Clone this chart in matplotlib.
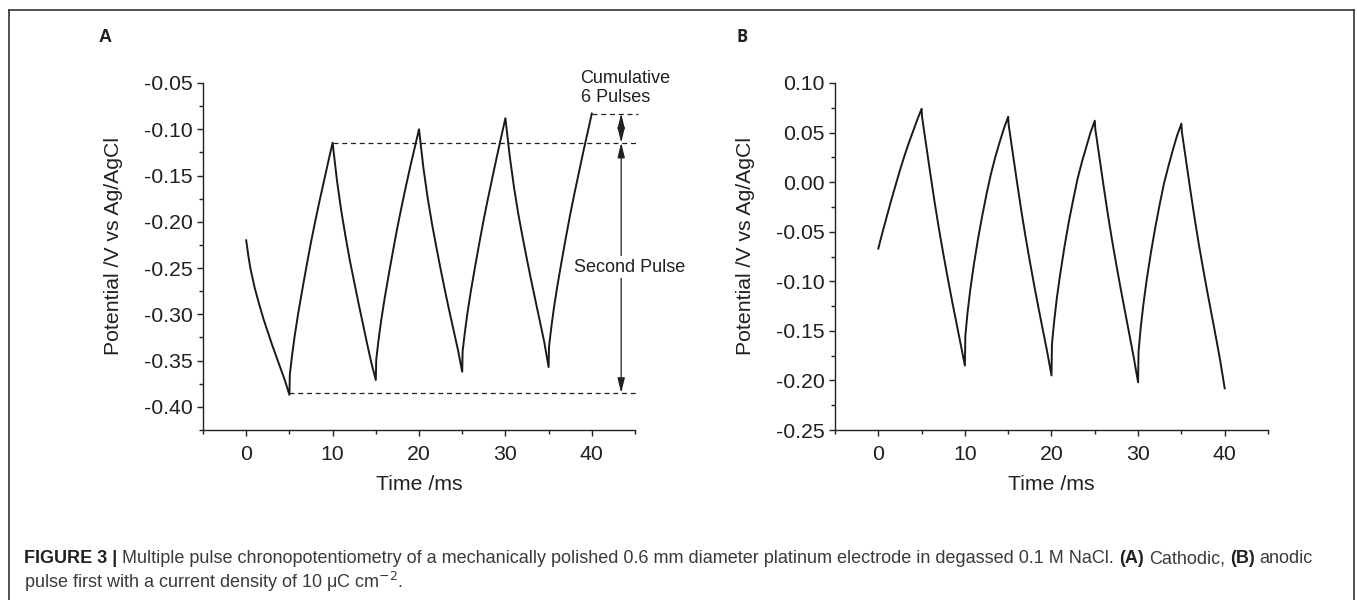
import numpy as np
import matplotlib
matplotlib.use('Agg')
import matplotlib.pyplot as plt
from matplotlib.ticker import MultipleLocator, FormatStrFormatter

plt.rcParams['font.family'] = ['Liberation Sans', 'DejaVu Sans']
plt.rcParams['axes.unicode_minus'] = False

# panel A: cathodic pulse first (time in ms, potential in V)
time_a = [0.0, 0.25, 0.5, 1.0, 1.5, 2.0, 2.5, 3.0, 3.5, 4.0, 4.5, 5.0,
          5.05, 5.3, 5.6, 6.0, 6.5, 7.0, 7.5, 8.0, 8.5, 9.0, 9.5, 10.0,
          10.5, 11.0, 11.5, 12.0, 12.5, 13.0, 13.5, 14.0, 14.5, 15.0,
          15.05, 15.3, 15.6, 16.0, 16.5, 17.0, 17.5, 18.0, 18.5, 19.0, 19.5, 20.0,
          20.5, 21.0, 21.5, 22.0, 22.5, 23.0, 23.5, 24.0, 24.5, 25.0,
          25.05, 25.3, 25.6, 26.0, 26.5, 27.0, 27.5, 28.0, 28.5, 29.0, 29.5, 30.0,
          30.5, 31.0, 31.5, 32.0, 32.5, 33.0, 33.5, 34.0, 34.5, 35.0,
          35.05, 35.3, 35.6, 36.0, 36.5, 37.0, 37.5, 38.0, 38.5, 39.0, 39.5, 40.0]
pot_a = [-0.220, -0.237, -0.251, -0.272, -0.289, -0.305, -0.319, -0.333, -0.346, -0.359, -0.372, -0.387,
         -0.365, -0.345, -0.324, -0.300, -0.273, -0.247, -0.222, -0.199, -0.177, -0.156, -0.135, -0.1145,
         -0.155, -0.188, -0.216, -0.242, -0.265, -0.288, -0.310, -0.332, -0.353, -0.371,
         -0.349, -0.329, -0.308, -0.284, -0.257, -0.231, -0.206, -0.183, -0.161, -0.140, -0.120, -0.100,
         -0.141, -0.174, -0.202, -0.227, -0.251, -0.274, -0.296, -0.317, -0.338, -0.362,
         -0.340, -0.320, -0.299, -0.275, -0.248, -0.222, -0.197, -0.174, -0.152, -0.130, -0.109, -0.088,
         -0.129, -0.163, -0.192, -0.217, -0.241, -0.264, -0.286, -0.308, -0.330, -0.357,
         -0.335, -0.315, -0.294, -0.270, -0.243, -0.217, -0.192, -0.169, -0.147, -0.125, -0.104, -0.083]

# panel B: anodic pulse first
time_b = [0.0, 0.5, 1.0, 1.5, 2.0, 2.5, 3.0, 3.5, 4.0, 4.5, 5.0,
          5.05, 5.5, 6.0, 6.5, 7.0, 7.5, 8.0, 8.5, 9.0, 9.5, 10.0,
          10.05, 10.3, 10.6, 11.0, 11.5, 12.0, 12.5, 13.0, 13.5, 14.0, 14.5, 15.0,
          15.05, 15.5, 16.0, 16.5, 17.0, 17.5, 18.0, 18.5, 19.0, 19.5, 20.0,
          20.05, 20.3, 20.6, 21.0, 21.5, 22.0, 22.5, 23.0, 23.5, 24.0, 24.5, 25.0,
          25.05, 25.5, 26.0, 26.5, 27.0, 27.5, 28.0, 28.5, 29.0, 29.5, 30.0,
          30.05, 30.3, 30.6, 31.0, 31.5, 32.0, 32.5, 33.0, 33.5, 34.0, 34.5, 35.0,
          35.05, 35.5, 36.0, 36.5, 37.0, 37.5, 38.0, 38.5, 39.0, 39.5, 40.0]
pot_b = [-0.067, -0.050, -0.034, -0.018, -0.003, 0.012, 0.026, 0.039, 0.051, 0.063, 0.074,
         0.066, 0.039, 0.009, -0.020, -0.047, -0.072, -0.096, -0.119, -0.141, -0.163, -0.185,
         -0.155, -0.132, -0.110, -0.085, -0.058, -0.034, -0.012, 0.008, 0.025, 0.040, 0.054, 0.066,
         0.058, 0.031, 0.001, -0.028, -0.055, -0.080, -0.104, -0.127, -0.149, -0.171, -0.195,
         -0.164, -0.141, -0.118, -0.093, -0.065, -0.040, -0.018, 0.003, 0.020, 0.035, 0.050, 0.062,
         0.054, 0.027, -0.003, -0.032, -0.059, -0.084, -0.108, -0.131, -0.154, -0.177, -0.202,
         -0.171, -0.147, -0.124, -0.098, -0.070, -0.045, -0.022, -0.001, 0.016, 0.032, 0.047, 0.059,
         0.051, 0.024, -0.006, -0.035, -0.062, -0.087, -0.111, -0.134, -0.157, -0.181, -0.208]

# reference levels for the annotation in panel A
first_peak = -0.1145
last_peak = -0.083
first_trough = -0.385

caption_1 = [("FIGURE 3 |", 'bold'),
             ("Multiple pulse chronopotentiometry of a mechanically polished 0.6 mm diameter "
              "platinum electrode in degassed 0.1 M NaCl.", 'normal'),
             ("(A)", 'bold'), ("Cathodic,", 'normal'), ("(B)", 'bold'), ("anodic", 'normal')]
caption_2 = [("pulse first with a current density of 10 \u03bcC cm$^{-2}$.", 'normal')]

ink = '#231f20'
W, H = 1357, 600
fs = 15.3


def style_axes(ax, ylim, ymajor, yminor):
  ax.set_xlim(-5, 45)
  ax.set_ylim(*ylim)
  for s in ['top', 'right']:
    ax.spines[s].set_visible(False)
  for s in ['left', 'bottom']:
    ax.spines[s].set_linewidth(1.0)
    ax.spines[s].set_color(ink)
  ax.xaxis.set_major_locator(MultipleLocator(10))
  ax.xaxis.set_minor_locator(MultipleLocator(5))
  ax.yaxis.set_major_locator(MultipleLocator(ymajor))
  ax.yaxis.set_minor_locator(MultipleLocator(yminor))
  ax.yaxis.set_major_formatter(FormatStrFormatter('%.2f'))
  ax.tick_params(axis='both', which='major', direction='out', length=4.5, width=1.0,
                 labelsize=fs, colors=ink)
  ax.tick_params(axis='both', which='minor', direction='out', length=3, width=1.0, colors=ink)
  ax.tick_params(axis='x', which='major', pad=6)
  ax.tick_params(axis='y', which='major', pad=3)
  ax.set_xlabel('Time /ms', fontsize=fs, color=ink)
  ax.set_ylabel('Potential /V vs Ag/AgCl', fontsize=fs, color=ink)
  ax.xaxis.set_label_coords(0.5, -0.13)
  ax.xaxis.label.set_va('top')
  ax.yaxis.set_label_coords(-0.207, 0.53)
  ax.yaxis.label.set_va('center')


fig = plt.figure(figsize=(W / 100, H / 100), dpi=100)

axA = fig.add_axes([203 / W, 1 - 430 / H, 432 / W, 347 / H])
axB = fig.add_axes([835 / W, 1 - 430 / H, 433 / W, 347 / H])

axA.plot(time_a, pot_a, color='#1a1a1a', lw=1.4)
axB.plot(time_b, pot_b, color='#1a1a1a', lw=1.4)
style_axes(axA, (-0.425, -0.05), 0.05, 0.025)
style_axes(axB, (-0.25, 0.10), 0.05, 0.025)

# dashed guide lines and arrows in panel A
x_end = 45.4
x_arrow = 43.4
dash = dict(color=ink, lw=0.9, ls=(0, (4, 3)), clip_on=False)
axA.plot([time_a[pot_a.index(first_peak)], x_end], [first_peak, first_peak], **dash)
axA.plot([time_a[-1], x_end], [last_peak, last_peak], **dash)
axA.plot([time_a[11], x_end], [first_trough, first_trough], **dash)

arrow = dict(arrowstyle='<|-|>,head_length=0.9,head_width=0.22', color=ink, lw=0.9,
             shrinkA=0, shrinkB=0, mutation_scale=10)
axA.annotate('', xy=(x_arrow, last_peak), xytext=(x_arrow, first_peak),
             arrowprops=arrow, annotation_clip=False)
axA.annotate('', xy=(x_arrow, first_peak), xytext=(x_arrow, first_trough),
             arrowprops=arrow, annotation_clip=False)
axA.text(44.4, -0.249, 'Second Pulse', fontsize=13, color=ink, ha='center', va='center',
         bbox=dict(facecolor='white', edgecolor='none', pad=2), clip_on=False)
axA.text(38.7, -0.0555, 'Cumulative\n6 Pulses', fontsize=13, color=ink, ha='left',
         va='center', linespacing=1.2, clip_on=False)

# panel letters
fig.text(99 / W, 1 - 38 / H, 'A', fontsize=13, fontweight='bold', color=ink, va='center')
fig.text(736 / W, 1 - 37 / H, 'B', fontsize=12, fontweight='bold', color=ink, va='center',
         family=['Open Sans', 'DejaVu Sans'])

# outer frame
frame = dict(color='#333333', lw=1.2, transform=fig.transFigure, clip_on=False)
fig.add_artist(plt.Line2D([9 / W, 9 / W], [0, 1 - 10 / H], **frame))
fig.add_artist(plt.Line2D([9 / W, 1354 / W], [1 - 10 / H, 1 - 10 / H], **frame))
fig.add_artist(plt.Line2D([1354 / W, 1354 / W], [0, 1 - 10 / H], **frame))

# caption, written piece by piece to mix bold and regular
renderer = fig.canvas.get_renderer()
cap_size = 13.0


def text_width(s, weight):
  t = fig.text(0, 0, s, fontsize=cap_size, fontweight=weight)
  w = t.get_window_extent(renderer).width
  t.remove()
  return w


space = text_width('x x', 'normal') - text_width('xx', 'normal')


def write_line(runs, x_px, y_px):
  for s, weight in runs:
    t = fig.text(x_px / W, 1 - y_px / H, s, fontsize=cap_size, fontweight=weight,
                 color=ink if weight == 'bold' else '#3a3a3a', va='baseline')
    x_px += t.get_window_extent(renderer).width + space


write_line(caption_1, 24, 563)
write_line(caption_2, 24, 588)

fig.savefig('out.png', dpi=100)
